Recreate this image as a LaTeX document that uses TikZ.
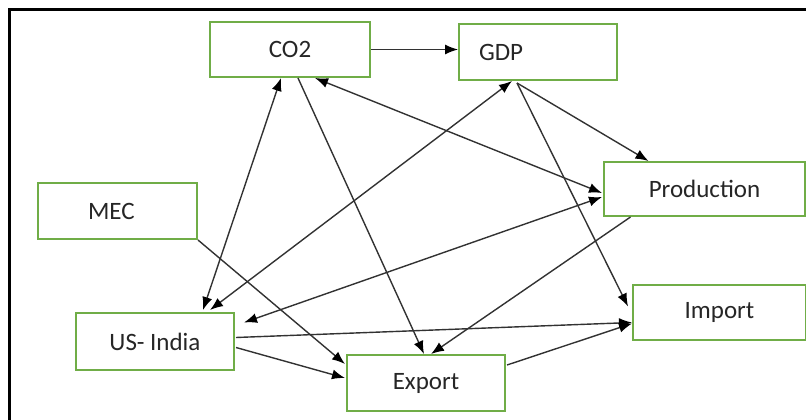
\documentclass[tikz,border=0pt]{standalone}
\usepackage{fontspec}
\setmainfont{Carlito}
\usetikzlibrary{arrows.meta,calc}
\definecolor{boxgreen}{RGB}{112,173,71}
\definecolor{linegray}{RGB}{50,50,50}

\begin{document}
\begin{tikzpicture}[x=1pt, y=-1pt,
        var/.style={draw=boxgreen, line width=2pt, minimum width=158pt, minimum height=55pt, inner sep=0pt, font=\fontsize{25}{30}\selectfont, text=black!85},
        link/.style={draw=linegray, line width=1.4pt, -{Latex[length=13pt, width=10pt, black]}},
        both/.style={link, {Latex[length=13pt, width=10pt, black]}-{Latex[length=13pt, width=10pt, black]}}]
        \useasboundingbox (0,0) rectangle (806,420);
        \draw[line width=3pt] (9.5,420) -- (9.5,9.5) -- (806,9.5);

        \node[var, minimum width=160pt] (co2) at (290,49.5) {CO2};
        \node[var, align=left, text width=118pt, inner xsep=20pt, minimum height=56pt] (gdp) at (538,52) {GDP};
        \node[var, minimum width=201pt, minimum height=54pt] (prod) at (704.5,189) {Production};
        \node[var, align=left, text width=59pt, inner xsep=50pt, minimum height=56pt] (mec) at (117.5,211) {MEC};
        \node[var, minimum height=57pt] (usin) at (155,341.5) {US- India};
        \node[var, minimum width=173pt] (imp) at (719.5,312.5) {Import};
        \node[var, minimum height=56pt] (exp) at (426,383) {Export};

        \draw[link] (co2.east) -- (co2.east -| gdp.west);
        \draw[both] ($(co2.south)+(-9,0)$) -- ($(usin.north)+(48,-2)$);
        \draw[both] ($(gdp.south)+(-26,0)$) -- ($(usin.north)+(55,-2)$);
        \draw[both] ($(co2.south)+(25,0)$) -- ($(prod.west)+(-1,4)$);
        \draw[link] ($(gdp.south)+(-21,2)$) -- ($(prod.north)+(-56,0)$);
        \draw[link] ($(gdp.south)+(-21,2)$) -- ($(imp.west)+(-4,-6)$);
        \draw[link] ($(co2.south)+(8,0)$) -- ($(exp.north)+(-2,0)$);
        \draw[link] ($(prod.south)+(-74,0)$) -- ($(exp.north)+(5,0)$);
        \draw[link] ($(usin.east)+(1,-4)$) -- ($(imp.west)+(0,10)$);
        \draw[link] ($(exp.east)+(1,-18)$) -- ($(imp.west)+(0,11)$);
        \draw[link] ($(usin.east)+(1,6)$) -- ($(exp.west)+(-1,-5)$);
        \draw[link] (mec.south east) -- ($(exp.west)+(-1,-19)$);
        \draw[both] ($(usin.east)+(9,-19)$) -- ($(prod.west)+(-1,8)$);
\end{tikzpicture}
\end{document}
